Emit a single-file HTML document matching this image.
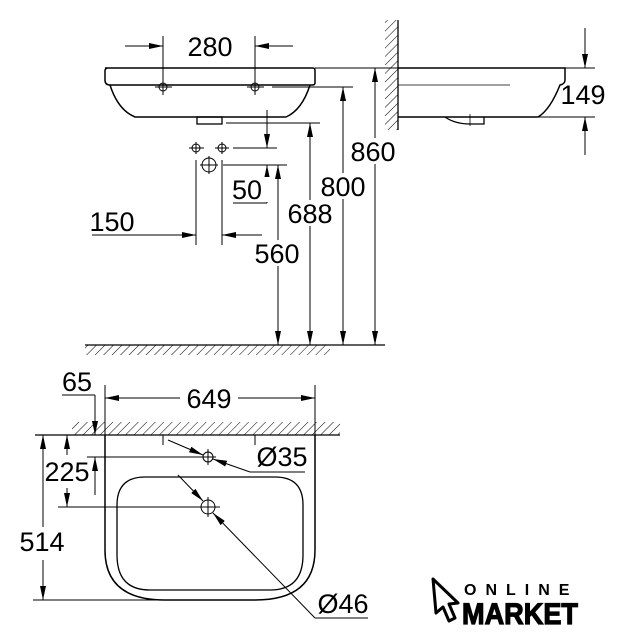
<!DOCTYPE html>
<html><head><meta charset="utf-8"><style>html,body{margin:0;padding:0;background:#fff}svg{display:block}</style></head>
<body>
<svg width="627" height="640" viewBox="0 0 627 640" xmlns="http://www.w3.org/2000/svg">
<defs>
<pattern id="h" patternUnits="userSpaceOnUse" width="6" height="6" patternTransform="rotate(45)">
<line x1="0" y1="0" x2="0" y2="6" stroke="#000" stroke-width="1"/></pattern>
<marker id="a" viewBox="0 0 14 6" refX="14" refY="3" markerWidth="14" markerHeight="6" markerUnits="userSpaceOnUse" orient="auto"><path d="M0,0 L14,3 L0,6 z" fill="#000"/></marker>
</defs>
<g fill="none" stroke="#000" stroke-width="1">
<line x1="125" y1="46" x2="163" y2="46" marker-end="url(#a)"/>
<line x1="293" y1="46" x2="255" y2="46" marker-end="url(#a)"/>
<line x1="163" y1="36" x2="163" y2="95"/>
<line x1="255" y1="36" x2="255" y2="95"/>
<path d="M105,68 H313 Q315,68 315,71 V83 Q315,85 312,85 H110 Q105,85 105,80 V71 Q105,68 108,68 Z" stroke-width="1.5"/>
<path d="M110,85 Q118,110 135,117 H286 Q302,110 310,85" stroke-width="1.5"/>
<rect x="197" y="117" width="25" height="7" stroke-width="1.3"/>
<circle cx="163" cy="87" r="4"/><line x1="155" y1="87" x2="172" y2="87"/>
<circle cx="255" cy="87" r="4"/><line x1="247" y1="87" x2="264" y2="87"/>
<line x1="272" y1="87" x2="353" y2="87"/>
<line x1="226" y1="123" x2="320" y2="123"/>
<line x1="315" y1="68" x2="398" y2="68"/>
<line x1="267" y1="110" x2="267" y2="148" marker-end="url(#a)"/>
<line x1="267" y1="203" x2="267" y2="165" marker-end="url(#a)"/>
<line x1="233" y1="203" x2="267" y2="203"/>
<line x1="233" y1="148" x2="277" y2="148"/>
<line x1="223" y1="165" x2="287" y2="165"/>
<circle cx="196" cy="148" r="4"/><line x1="189" y1="148" x2="204" y2="148"/><line x1="196" y1="142" x2="196" y2="154"/>
<circle cx="222" cy="148" r="4"/><line x1="215" y1="148" x2="229" y2="148"/><line x1="222" y1="142" x2="222" y2="154"/>
<circle cx="209" cy="165" r="7"/><line x1="200" y1="165" x2="218" y2="165"/><line x1="209" y1="156" x2="209" y2="174"/>
<line x1="92" y1="235" x2="196" y2="235" marker-end="url(#a)"/>
<line x1="262" y1="235" x2="222" y2="235" marker-end="url(#a)"/>
<line x1="196" y1="160" x2="196" y2="245"/>
<line x1="222" y1="160" x2="222" y2="245"/>
<line x1="278" y1="345" x2="278" y2="165" marker-end="url(#a)"/>
<line x1="278" y1="167" x2="278" y2="345" marker-end="url(#a)"/>
<line x1="310" y1="345" x2="310" y2="123" marker-end="url(#a)"/>
<line x1="310" y1="123" x2="310" y2="345" marker-end="url(#a)"/>
<line x1="343" y1="345" x2="343" y2="87" marker-end="url(#a)"/>
<line x1="343" y1="87" x2="343" y2="345" marker-end="url(#a)"/>
<line x1="375" y1="345" x2="375" y2="68" marker-end="url(#a)"/>
<line x1="375" y1="68" x2="375" y2="345" marker-end="url(#a)"/>
<rect x="85" y="345" width="245" height="10" fill="url(#h)" stroke="none"/>
<line x1="85" y1="345" x2="385" y2="345" stroke-width="1.3"/>
<rect x="385" y="20" width="13" height="110" fill="url(#h)" stroke="none"/>
<line x1="398" y1="20" x2="398" y2="130" stroke-width="1.3"/>
<path d="M398,68 H565 V80 Q565,84 560,85 Q550,110 538,117 H398" stroke-width="1.5"/>
<line x1="398" y1="85" x2="510" y2="85" stroke-width="0.8"/>
<path d="M445,117 Q455,124 470,124 H484 V117" stroke-width="1.3"/>
<line x1="470" y1="114" x2="470" y2="126" stroke-width="0.8"/>
<line x1="565" y1="68" x2="595" y2="68"/>
<line x1="538" y1="117" x2="595" y2="117"/>
<line x1="585" y1="28" x2="585" y2="68" marker-end="url(#a)"/>
<line x1="585" y1="155" x2="585" y2="117" marker-end="url(#a)"/>
<line x1="62" y1="395" x2="95" y2="395"/>
<line x1="95" y1="395" x2="95" y2="435" marker-end="url(#a)"/>
<line x1="95" y1="495" x2="95" y2="457" marker-end="url(#a)"/>
<line x1="180" y1="398" x2="105" y2="398" marker-end="url(#a)"/>
<line x1="238" y1="398" x2="315" y2="398" marker-end="url(#a)"/>
<line x1="105" y1="385" x2="105" y2="440"/>
<line x1="315" y1="385" x2="315" y2="440"/>
<rect x="72" y="422" width="268" height="13" fill="url(#h)" stroke="none"/>
<line x1="35" y1="435" x2="340" y2="435" stroke-width="1.3"/>
<path d="M105,435 V550 Q105,600 165,600 H255 Q315,600 315,550 V435" stroke-width="1.5"/>
<path d="M145,477 H275 Q303,477 303,505 V555 Q303,590 270,590 H150 Q117,590 117,555 V505 Q117,477 145,477 Z" stroke-width="1.3"/>
<line x1="163" y1="435" x2="163" y2="445"/><line x1="255" y1="435" x2="255" y2="445"/>
<circle cx="208" cy="457" r="5"/><line x1="87" y1="457" x2="216" y2="457"/><line x1="208" y1="449" x2="208" y2="465"/>
<circle cx="208" cy="507" r="7"/><line x1="58" y1="507" x2="220" y2="507"/><line x1="208" y1="497" x2="208" y2="517"/>
<line x1="168" y1="440" x2="203" y2="455" marker-end="url(#a)"/>
<line x1="250" y1="472" x2="213" y2="459" marker-end="url(#a)"/>
<line x1="250" y1="472" x2="305" y2="472"/>
<line x1="178" y1="475" x2="203" y2="501" marker-end="url(#a)"/>
<line x1="315" y1="618" x2="213" y2="513" marker-end="url(#a)"/>
<line x1="315" y1="618" x2="368" y2="618"/>
<line x1="67" y1="455" x2="67" y2="435" marker-end="url(#a)"/>
<line x1="67" y1="488" x2="67" y2="507" marker-end="url(#a)"/>
<line x1="43" y1="527" x2="43" y2="435" marker-end="url(#a)"/>
<line x1="43" y1="560" x2="43" y2="600" marker-end="url(#a)"/>
<line x1="33" y1="600" x2="210" y2="600"/>
</g>
<g font-family="Liberation Sans, sans-serif" font-size="27" text-anchor="middle" fill="#000">
<text x="210" y="56">280</text>
<rect x="252" y="177" width="20" height="25" fill="#fff"/>
<text x="247" y="199">50</text>
<text x="112" y="231">150</text>
<rect x="253" y="240" width="50" height="26" fill="#fff"/>
<text x="277" y="263">560</text>
<rect x="285" y="200" width="50" height="26" fill="#fff"/>
<text x="310" y="223">688</text>
<rect x="318" y="173" width="50" height="26" fill="#fff"/>
<text x="343" y="196">800</text>
<rect x="350" y="138" width="50" height="26" fill="#fff"/>
<text x="373" y="161">860</text>
<text x="583" y="104">149</text>
<text x="77" y="391">65</text>
<text x="209" y="408">649</text>
<text x="282" y="466">Ø35</text>
<text x="343" y="613">Ø46</text>
<text x="67" y="481">225</text>
<rect x="18" y="527" width="50" height="26" fill="#fff"/>
<text x="42" y="551">514</text>
</g>
<path d="M433,579 L458,603 L449,604 L455,618 L449,621 L443,607 L436,613 Z" fill="none" stroke="#000" stroke-width="3" stroke-linejoin="round"/>
<text x="464" y="595" font-family="Liberation Sans, sans-serif" font-weight="bold" font-size="16" letter-spacing="9">ONLINE</text>
<text x="462" y="624" font-family="Liberation Sans, sans-serif" font-weight="bold" font-size="30" stroke="#000" stroke-width="1.2" textLength="116" lengthAdjust="spacingAndGlyphs">MARKET</text>
</svg>
</body></html>
